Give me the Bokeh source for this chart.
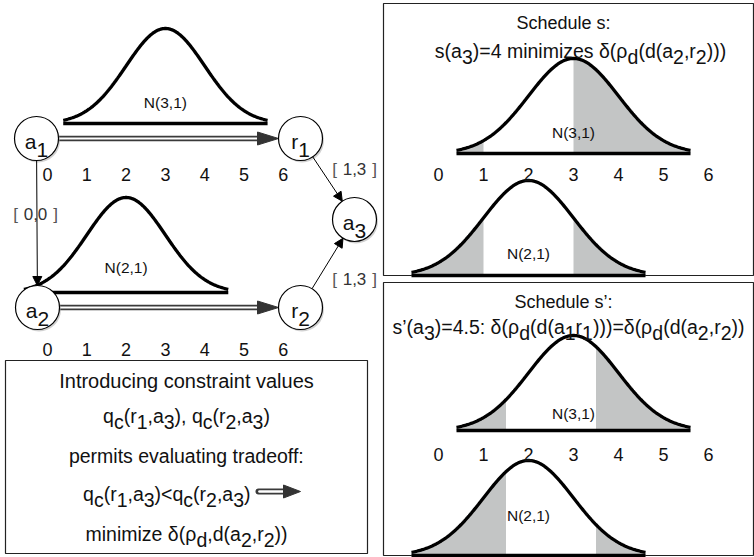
import numpy as np
from bokeh.plotting import figure
from bokeh.models import Range1d, ColumnDataSource, Arrow, NormalHead
from bokeh.core.properties import value, field
from bokeh.embed import file_html
from bokeh.resources import INLINE

W, H = 754, 557
FONT = "Liberation Sans"

# ---------------------------------------------------------------- data
tick_values = [0, 1, 2, 3, 4, 5, 6]
tick_labels = ["0", "1", "2", "3", "4", "5", "6"]

# activity durations N(mean, sd)
dist_names = ["N(3,1)", "N(2,1)"]
dist_means = [3, 2]
dist_sds = [1, 1]

# unshaded part of each duration under schedule s (a3 at 4) and s' (a3 at 4.5)
s_window = [1, 3]
s_prime_window = [1.5, 3.5]

node_labels = ["a_1", "r_1", "a_2", "r_2", "a_3"]
edge_labels = ["0,0", "1,3", "1,3"]

titles_s = ["Schedule s:", "s(a_3)=4 minimizes δ(ρ_d(d(a_2,r_2)))"]
titles_sp = ["Schedule s’:", "s’(a_3)=4.5: δ(ρ_d(d(a_1r_1)))=δ(ρ_d(d(a_2,r_2))"]
box_lines = [
    "Introducing constraint values",
    "q_c(r_1,a_3), q_c(r_2,a_3)",
    "permits evaluating tradeoff:",
    "q_c(r_1,a_3)<q_c(r_2,a_3)",
    "minimize δ(ρ_d,d(a_2,r_2))",
]

# ---------------------------------------------------------------- layout
node_pos = {"a_1": (36, 138), "r_1": (300, 138), "a_2": (37, 307),
            "r_2": (300, 307), "a_3": (354, 219)}
NODE_R = 22
PEAK = 95
TAIL = 2.6

panels = [
    dict(x0=47, unit=39.3, base=123, d=0, window=None, rise=26),
    dict(x0=47, unit=39.3, base=292, d=1, window=None, rise=30),
    dict(x0=438, unit=45, base=153, d=0, window=s_window, rise=26),
    dict(x0=438, unit=45, base=275, d=1, window=s_window, rise=27),
    dict(x0=438, unit=45, base=430, d=0, window=s_prime_window, rise=22),
    dict(x0=438, unit=45, base=555, d=1, window=s_prime_window, rise=45),
]
tick_rows = [(47, 39.3, 174), (47, 39.3, 349), (438, 45, 174), (438, 45, 454)]

# Arial / Liberation Sans advance widths (1/1000 em)
ADV = {" ": 278, "(": 333, ")": 333, ",": 278, ".": 278, ":": 278, "<": 584,
       "=": 584, "’": 222, "δ": 556, "ρ": 577, "[": 278, "]": 278,
       "a": 556, "b": 556, "c": 500, "d": 556, "e": 556, "f": 278, "g": 556,
       "h": 556, "i": 222, "l": 222, "m": 833, "n": 556, "o": 556, "p": 556,
       "q": 556, "r": 333, "s": 500, "t": 278, "u": 556, "v": 500, "z": 500,
       "I": 278, "N": 722, "S": 667}


def runs_of(s):
    runs, cur, i = [], "", 0
    while i < len(s):
        if s[i] == "_":
            if cur:
                runs.append((cur, False))
                cur = ""
            runs.append((s[i + 1], True))
            i += 2
        else:
            cur += s[i]
            i += 1
    if cur:
        runs.append((cur, False))
    return runs


texts = dict(x=[], y=[], text=[], size=[], color=[])


def put(s, x, baseline, size, align="center", drop=0.32, color="#111111"):
    runs = runs_of(s)
    widths = [sum(ADV.get(c, 556) for c in t) * size / 1000 for t, _ in runs]
    total = sum(widths)
    cx = x - total / 2 if align == "center" else (x - total if align == "right" else x)
    for (t, sub), w in zip(runs, widths):
        texts["x"].append(cx)
        texts["y"].append(baseline + (drop * size if sub else 0))
        texts["text"].append(t)
        texts["size"].append(f"{size}px")
        texts["color"].append(color)
        cx += w
    return total


p = figure(width=W, height=H, x_range=Range1d(0, W), y_range=Range1d(H, 0),
           output_backend="svg", toolbar_location=None,
           x_axis_location=None, y_axis_location=None,
           min_border=0, outline_line_color=None, background_fill_color="white")
p.grid.visible = False

# frames
p.quad(left=[5, 383, 383], right=[367, 753, 753], top=[360, 3, 282],
       bottom=[553, 275, 555], fill_color=None, line_color="#222222", line_width=1.2)

# duration curves
for pn in panels:
    m, sd = dist_means[pn["d"]], dist_sds[pn["d"]]
    x0, u, base = pn["x0"], pn["unit"], pn["base"]

    def curve(a, b):
        v = np.linspace(a, b, 200)
        return x0 + u * v, base - PEAK * np.exp(-0.5 * ((v - m) / sd) ** 2)

    lo, hi = m - TAIL * sd, m + TAIL * sd
    if pn["window"] is not None:
        w0, w1 = pn["window"]
        for a, b in [(lo, w0), (w1, hi)]:
            cx, cy = curve(a, b)
            p.varea(x=cx, y1=np.full_like(cx, base), y2=cy, fill_color="#c3c5c5")
    cx, cy = curve(lo, hi)
    p.line(cx, cy, line_color="black", line_width=3.3)
    p.line([x0 + u * lo, x0 + u * hi], [base, base], line_color="black", line_width=3.4)
    put(dist_names[pn["d"]], x0 + u * m, base - pn["rise"] + 5, 15.5)

# tick labels
for x0, u, yb in tick_rows:
    for v, lab in zip(tick_values, tick_labels):
        put(lab, x0 + u * v, yb, 18)


# hollow arrows along the activity edges
def hollow_arrow(x_from, x_to, y, head=21, half=6.5, shaft=5.5, cap="butt"):
    p.line([x_from, x_to - head + 2], [y, y], line_color="#3a3a3a", line_width=shaft, line_cap=cap)
    p.line([x_from + (1 if cap == "round" else 0), x_to - head + 2], [y, y],
           line_color="white", line_width=shaft - 3.3, line_cap=cap)
    p.patch([x_to - head, x_to, x_to - head], [y - half, y, y + half],
            fill_color="#333333", line_color="#333333")


for a, b in [("a_1", "r_1"), ("a_2", "r_2")]:
    (xa, ya), (xb, yb) = node_pos[a], node_pos[b]
    hollow_arrow(xa + NODE_R, xb - NODE_R, ya)

hollow_arrow(258, 300, 491, head=17, half=6.5, shaft=6, cap="round")

# precedence edges with constraint intervals
edges = [("a_1", "a_2"), ("r_1", "a_3"), ("r_2", "a_3")]
for a, b in edges:
    (xa, ya), (xb, yb) = node_pos[a], node_pos[b]
    d = np.hypot(xb - xa, yb - ya)
    ux, uy = (xb - xa) / d, (yb - ya) / d
    p.add_layout(Arrow(end=NormalHead(size=9, fill_color="black", line_color="black"),
                       x_start=xa + NODE_R * ux, y_start=ya + NODE_R * uy,
                       x_end=xb - NODE_R * ux, y_end=yb - NODE_R * uy,
                       line_color="black", line_width=1))

# interval labels: spaced brackets around the bounds
edge_label_pos = [(35, 213), (354, 168), (354, 278)]
for lab, (x, y) in zip(edge_labels, edge_label_pos):
    put(lab, x, y, 17, color="#333333")
    put("[", x - 20, y + 1, 17, color="#555555")
    put("]", x + 20, y + 1, 17, color="#555555")

# nodes
nx = [node_pos[k][0] for k in node_labels]
ny = [node_pos[k][1] for k in node_labels]
p.circle(x=[v + 1.5 for v in nx], y=[v + 2 for v in ny], radius=NODE_R,
         fill_color="#9a9a9a", fill_alpha=0.45, line_color=None)
p.circle(x=nx, y=ny, radius=NODE_R, fill_color="white", line_color="black", line_width=1.2)
for k, x, y in zip(node_labels, nx, ny):
    put(k, x, y + 3, 21, drop=0.42)

# panel headings
put(titles_s[0], 563, 22, 18)
put(titles_s[1], 580, 50, 19.5)
put(titles_sp[0], 563, 301, 18)
put(titles_sp[1], 568, 326, 19.5)

# explanation box
box_baselines = [380, 415, 455, 493, 533]
for i, (s, yb) in enumerate(zip(box_lines, box_baselines)):
    if i == 3:
        put(s, 250, yb, 19.5, align="right")
    else:
        put(s, 186, yb, 19.5 if i != 0 else 20)

src = ColumnDataSource(texts)
p.text(x="x", y="y", text="text", source=src, text_font=value(FONT),
       text_font_size=field("size"), text_align="left", text_baseline="alphabetic",
       text_color="color")

open("out.html", "w").write(file_html(p, INLINE))
